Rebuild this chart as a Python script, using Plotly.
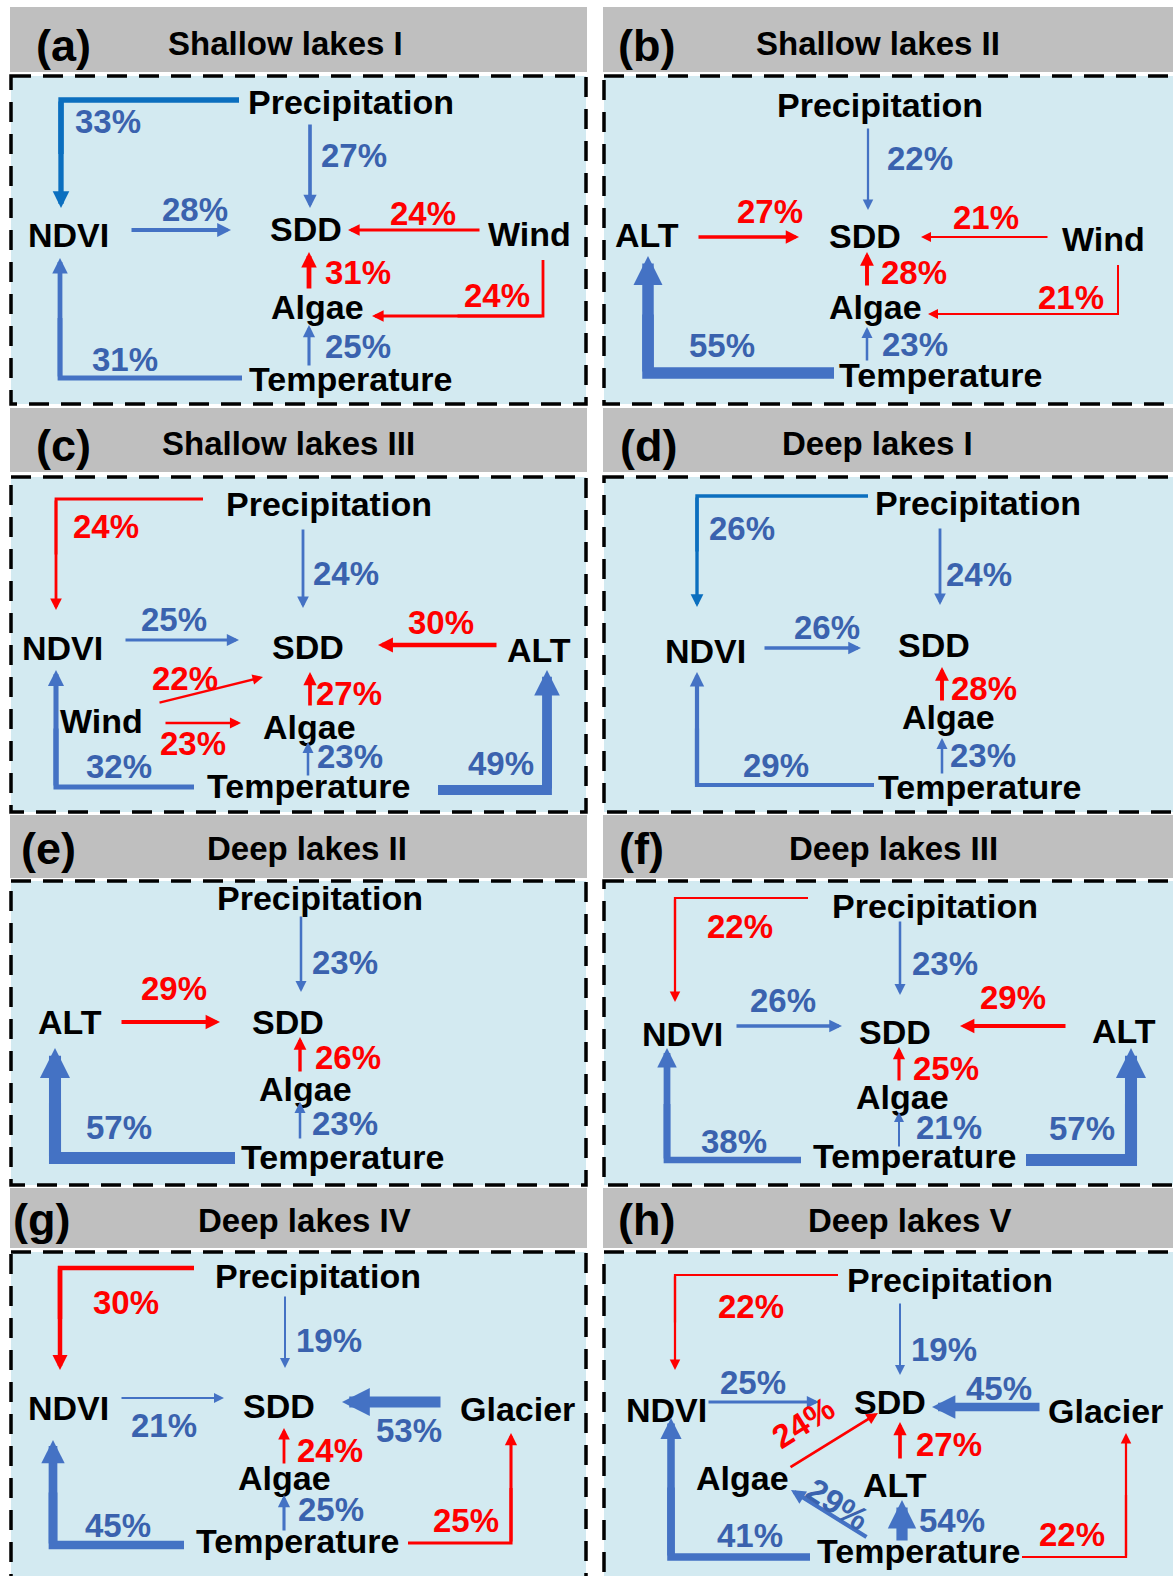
import plotly.graph_objects as go

FIG_W, FIG_H = 1173, 1576

# ---------------- data ----------------
PANEL_TAGS = ["(a)", "(b)", "(c)", "(d)", "(e)", "(f)", "(g)", "(h)"]
PANEL_TITLES = ["Shallow lakes I", "Shallow lakes II", "Shallow lakes III", "Deep lakes I",
                "Deep lakes II", "Deep lakes III", "Deep lakes IV", "Deep lakes V"]

# sign: +1 = positive effect (blue), -1 = negative effect (red)
A_SRC = ["Precipitation", "Precipitation", "NDVI", "Wind", "Algae", "Wind", "Temperature", "Temperature"]
A_DST = ["NDVI", "SDD", "SDD", "SDD", "SDD", "Algae", "Algae", "NDVI"]
A_PCT = [33, 27, 28, 24, 31, 24, 25, 31]
A_SIGN = [1, 1, 1, -1, -1, -1, 1, 1]

B_SRC = ["Precipitation", "ALT", "Wind", "Algae", "Wind", "Temperature", "Temperature"]
B_DST = ["SDD", "SDD", "SDD", "SDD", "Algae", "Algae", "ALT"]
B_PCT = [22, 27, 21, 28, 21, 23, 55]
B_SIGN = [1, -1, -1, -1, -1, 1, 1]

C_SRC = ["Precipitation", "Precipitation", "NDVI", "ALT", "Wind", "Wind", "Algae", "Temperature", "Temperature", "Temperature"]
C_DST = ["NDVI", "SDD", "SDD", "SDD", "SDD", "Algae", "SDD", "Algae", "NDVI", "ALT"]
C_PCT = [24, 24, 25, 30, 22, 23, 27, 23, 32, 49]
C_SIGN = [-1, 1, 1, -1, -1, -1, -1, 1, 1, 1]

D_SRC = ["Precipitation", "Precipitation", "NDVI", "Algae", "Temperature", "Temperature"]
D_DST = ["NDVI", "SDD", "SDD", "SDD", "Algae", "NDVI"]
D_PCT = [26, 24, 26, 28, 23, 29]
D_SIGN = [1, 1, 1, -1, 1, 1]

E_SRC = ["Precipitation", "ALT", "Algae", "Temperature", "Temperature"]
E_DST = ["SDD", "SDD", "SDD", "Algae", "ALT"]
E_PCT = [23, 29, 26, 23, 57]
E_SIGN = [1, -1, -1, 1, 1]

F_SRC = ["Precipitation", "Precipitation", "NDVI", "ALT", "Algae", "Temperature", "Temperature", "Temperature"]
F_DST = ["NDVI", "SDD", "SDD", "SDD", "SDD", "Algae", "NDVI", "ALT"]
F_PCT = [22, 23, 26, 29, 25, 21, 38, 57]
F_SIGN = [-1, 1, 1, -1, -1, 1, 1, 1]

G_SRC = ["Precipitation", "Precipitation", "NDVI", "Glacier", "Algae", "Temperature", "Temperature", "Temperature"]
G_DST = ["NDVI", "SDD", "SDD", "SDD", "SDD", "Algae", "NDVI", "Glacier"]
G_PCT = [30, 19, 21, 53, 24, 25, 45, 25]
G_SIGN = [-1, 1, 1, 1, -1, 1, 1, -1]

H_SRC = ["Precipitation", "Precipitation", "NDVI", "Glacier", "Algae", "ALT", "Temperature", "Temperature", "Temperature", "Temperature"]
H_DST = ["NDVI", "SDD", "SDD", "SDD", "SDD", "SDD", "Algae", "ALT", "NDVI", "Glacier"]
H_PCT = [22, 19, 25, 45, 24, 27, 29, 54, 41, 22]
H_SIGN = [-1, 1, 1, 1, -1, -1, 1, 1, 1, -1]

PANEL_DATA = [
    (A_SRC, A_DST, A_PCT, A_SIGN), (B_SRC, B_DST, B_PCT, B_SIGN),
    (C_SRC, C_DST, C_PCT, C_SIGN), (D_SRC, D_DST, D_PCT, D_SIGN),
    (E_SRC, E_DST, E_PCT, E_SIGN), (F_SRC, F_DST, F_PCT, F_SIGN),
    (G_SRC, G_DST, G_PCT, G_SIGN), (H_SRC, H_DST, H_PCT, H_SIGN),
]

# ---------------- layout (diagram geometry, page pixels) ----------------
COL_X = [(10, 587), (603, 1185)]
ROW_Y = [(7, 72, 76, 404), (408, 472, 477, 812), (815, 878, 881, 1185), (1188, 1248, 1252, 1600)]
TAG_POS = [(63, 45), (646, 45), (63, 445), (648, 445), (48, 848), (641, 848), (41, 1219), (646, 1219)]
TITLE_POS = [(285, 43), (878, 43), (288, 443), (877, 443), (307, 848), (893, 848), (304, 1220), (910, 1220)]

GEOM = [
    {  # a
        "nodes": {"Precipitation": (351, 102), "NDVI": (68, 235), "SDD": (306, 229), "Wind": (529, 234),
                  "Algae": (317, 307), "Temperature": (350, 379)},
        "routes": [[(239, 100), (61, 100), (61, 208)], [(310, 123), (310, 208)], [(130, 230), (231, 230)],
                   [(481, 230), (348, 230)], [(309, 290), (309, 252)], [(543, 260), (543, 316), (372, 316)],
                   [(309, 367), (309, 325)], [(242, 378), (60, 378), (60, 258)]],
        "labels": [(108, 121), (354, 155), (195, 209), (423, 213), (358, 272), (497, 295), (358, 346), (125, 359)],
        "angles": {},
    },
    {  # b
        "nodes": {"Precipitation": (880, 105), "ALT": (647, 235), "SDD": (865, 236), "Wind": (1103, 239),
                  "Algae": (875, 307), "Temperature": (940, 375)},
        "routes": [[(868, 127), (868, 210)], [(697, 237), (799, 237)], [(1049, 237), (921, 237)],
                   [(867, 287), (867, 252)], [(1118, 265), (1118, 314), (928, 314)], [(867, 362), (867, 327)],
                   [(834, 373), (648, 373), (648, 256)]],
        "labels": [(920, 158), (770, 211), (986, 217), (914, 272), (1071, 297), (915, 344), (722, 345)],
        "angles": {},
    },
    {  # c
        "nodes": {"Precipitation": (329, 504), "NDVI": (62, 648), "SDD": (308, 647), "ALT": (539, 650),
                  "Wind": (101, 721), "Algae": (309, 727), "Temperature": (308, 786)},
        "routes": [[(203, 499), (56, 499), (56, 610)], [(303, 528), (303, 608)], [(124, 640), (239, 640)],
                   [(498, 645), (378, 645)], [(158, 703), (263, 677)], [(164, 723), (241, 723)],
                   [(310, 707), (310, 672)], [(308, 777), (308, 742)], [(194, 787), (56, 787), (56, 670)],
                   [(438, 790), (547, 790), (547, 670)]],
        "labels": [(106, 526), (346, 573), (174, 619), (441, 622), (185, 678), (193, 743), (349, 693),
                   (350, 756), (119, 766), (501, 763)],
        "angles": {},
    },
    {  # d
        "nodes": {"Precipitation": (978, 503), "NDVI": (705, 651), "SDD": (934, 645), "Algae": (948, 717),
                  "Temperature": (979, 787)},
        "routes": [[(868, 496), (697, 496), (697, 607)], [(940, 527), (940, 605)], [(763, 648), (861, 648)],
                   [(942, 702), (942, 667)], [(942, 775), (942, 738)], [(874, 785), (697, 785), (697, 672)]],
        "labels": [(742, 528), (979, 574), (827, 627), (984, 688), (983, 755), (776, 765)],
        "angles": {},
    },
    {  # e
        "nodes": {"Precipitation": (320, 898), "ALT": (70, 1022), "SDD": (288, 1022), "Algae": (305, 1089),
                  "Temperature": (342, 1157)},
        "routes": [[(301, 915), (301, 992)], [(120, 1022), (220, 1022)], [(300, 1073), (300, 1037)],
                   [(300, 1140), (300, 1102)], [(235, 1158), (55, 1158), (55, 1048)]],
        "labels": [(345, 962), (174, 988), (348, 1057), (345, 1123), (119, 1127)],
        "angles": {},
    },
    {  # f
        "nodes": {"Precipitation": (935, 906), "NDVI": (682, 1034), "SDD": (895, 1032), "ALT": (1124, 1031),
                  "Algae": (902, 1097), "Temperature": (914, 1156)},
        "routes": [[(808, 898), (675, 898), (675, 1002)], [(900, 920), (900, 995)], [(735, 1026), (842, 1026)],
                   [(1067, 1026), (960, 1026)], [(899, 1082), (899, 1047)], [(899, 1148), (899, 1112)],
                   [(801, 1160), (667, 1160), (667, 1048)], [(1026, 1160), (1131, 1160), (1131, 1048)]],
        "labels": [(740, 926), (945, 963), (783, 1000), (1013, 997), (946, 1068), (949, 1127), (734, 1141),
                   (1082, 1128)],
        "angles": {},
    },
    {  # g
        "nodes": {"Precipitation": (318, 1276), "NDVI": (68, 1408), "SDD": (279, 1406), "Glacier": (517, 1409),
                  "Algae": (284, 1478), "Temperature": (297, 1541)},
        "routes": [[(194, 1268), (60, 1268), (60, 1370)], [(285, 1295), (285, 1368)], [(120, 1398), (224, 1398)],
                   [(442, 1402), (342, 1402)], [(284, 1465), (284, 1428)], [(284, 1532), (284, 1495)],
                   [(184, 1545), (53, 1545), (53, 1440)], [(408, 1543), (511, 1543), (511, 1433)]],
        "labels": [(126, 1302), (329, 1340), (164, 1425), (409, 1430), (330, 1450), (331, 1509), (118, 1525),
                   (466, 1520)],
        "angles": {},
    },
    {  # h
        "nodes": {"Precipitation": (950, 1280), "NDVI": (666, 1410), "SDD": (890, 1402), "Glacier": (1105, 1411),
                  "Algae": (742, 1478), "ALT": (895, 1485), "Temperature": (918, 1551)},
        "routes": [[(838, 1275), (675, 1275), (675, 1370)], [(900, 1302), (900, 1375)], [(707, 1402), (819, 1402)],
                   [(1041, 1407), (932, 1407)], [(789, 1468), (878, 1413)], [(900, 1460), (900, 1422)],
                   [(868, 1538), (791, 1490)], [(902, 1542), (902, 1500)], [(810, 1557), (671, 1557), (671, 1418)],
                   [(1022, 1557), (1126, 1557), (1126, 1433)]],
        "labels": [(751, 1306), (944, 1349), (753, 1382), (999, 1388), (803, 1422), (949, 1444), (838, 1504),
                   (952, 1520), (750, 1535), (1072, 1534)],
        "angles": {4: -32, 6: 33},
    },
]

FONT = "Liberation Sans, Arial, sans-serif"
BLUE = "#4472C4"
DARK_BLUE = "#0B6FBF"
RED = "#FF0000"
BLUE_TXT = "#3A62AE"
RED_TXT = "#FF0000"
HEADER_GRAY = "#BFBFBF"
BOX_FILL = "#D3EAF1"


def line_width(pct):
    return max(2.0, 0.28 * (pct - 14))


fig = go.Figure()
fig.add_trace(go.Scatter(x=[0, FIG_W], y=[0, FIG_H], mode="markers",
                         marker=dict(opacity=0), hoverinfo="skip", showlegend=False))

shapes = []
annotations = []

for p in range(8):
    col, row = p % 2, p // 2
    x0, x1 = COL_X[col]
    hy0, hy1, by0, by1 = ROW_Y[row]
    # header bar
    shapes.append(dict(type="rect", xref="x", yref="y", x0=x0, x1=x1,
                       y0=hy0, y1=hy1, fillcolor=HEADER_GRAY, line=dict(width=0), layer="below"))
    # dashed box
    shapes.append(dict(type="rect", xref="x", yref="y", x0=x0 + 1, x1=x1 - 1, y0=by0, y1=by1,
                       fillcolor=BOX_FILL, line=dict(color="black", width=3.5, dash="20px,12px"),
                       layer="below"))
    annotations.append(dict(x=TAG_POS[p][0], y=TAG_POS[p][1], xref="x", yref="y", text="<b>%s</b>" % PANEL_TAGS[p],
                            showarrow=False, font=dict(family=FONT, size=45, color="black"),
                            xanchor="center", yanchor="middle"))
    annotations.append(dict(x=TITLE_POS[p][0], y=TITLE_POS[p][1], xref="x", yref="y",
                            text="<b>%s</b>" % PANEL_TITLES[p], showarrow=False,
                            font=dict(family=FONT, size=33, color="black"),
                            xanchor="center", yanchor="middle"))

    src, dst, pct, sign = PANEL_DATA[p]
    g = GEOM[p]
    # node labels
    for name, (nx, ny) in g["nodes"].items():
        annotations.append(dict(x=nx, y=ny, xref="x", yref="y", text="<b>%s</b>" % name, showarrow=False,
                                font=dict(family=FONT, size=34, color="black"),
                                xanchor="center", yanchor="middle"))
    # edges
    for i in range(len(src)):
        v = pct[i]
        w = line_width(v)
        if sign[i] > 0:
            col_line = DARK_BLUE if (src[i] == "Precipitation" and dst[i] == "NDVI") else BLUE
            col_txt = BLUE_TXT
        else:
            col_line = RED
            col_txt = RED_TXT
        route = g["routes"][i]
        head = 6 + 2 * w
        asize = max(0.3, head / (5 * w))
        if len(route) == 3:
            (ax0, ay0), (cx, cy), (tx, ty) = route
            mx, my = cx + 0.5 * (tx - cx), cy + 0.5 * (ty - cy)
            shapes.append(dict(type="path", xref="x", yref="y",
                               path="M %f,%f L %f,%f L %f,%f" % (ax0, ay0, cx, cy, mx, my),
                               line=dict(color=col_line, width=w), layer="above"))
            tail = (cx, cy)
            tip = (tx, ty)
        else:
            tail, tip = route
        annotations.append(dict(x=tip[0], y=tip[1], ax=tail[0], ay=tail[1], xref="x", yref="y",
                                axref="x", ayref="y", text="", showarrow=True, arrowhead=2,
                                arrowwidth=w, arrowsize=asize, arrowcolor=col_line,
                                standoff=0, startstandoff=0))
        lx, ly = g["labels"][i]
        annotations.append(dict(x=lx, y=ly, xref="x", yref="y", text="<b>%d%%</b>" % v, showarrow=False,
                                font=dict(family=FONT, size=33, color=col_txt),
                                textangle=g["angles"].get(i, 0),
                                xanchor="center", yanchor="middle"))

fig.update_layout(
    width=FIG_W, height=FIG_H,
    margin=dict(l=0, r=0, t=0, b=0),
    paper_bgcolor="white", plot_bgcolor="white",
    xaxis=dict(range=[0, FIG_W], visible=False, fixedrange=True),
    yaxis=dict(range=[FIG_H, 0], visible=False, fixedrange=True),
    shapes=shapes, annotations=annotations, showlegend=False,
)

fig.write_html("out.html")
